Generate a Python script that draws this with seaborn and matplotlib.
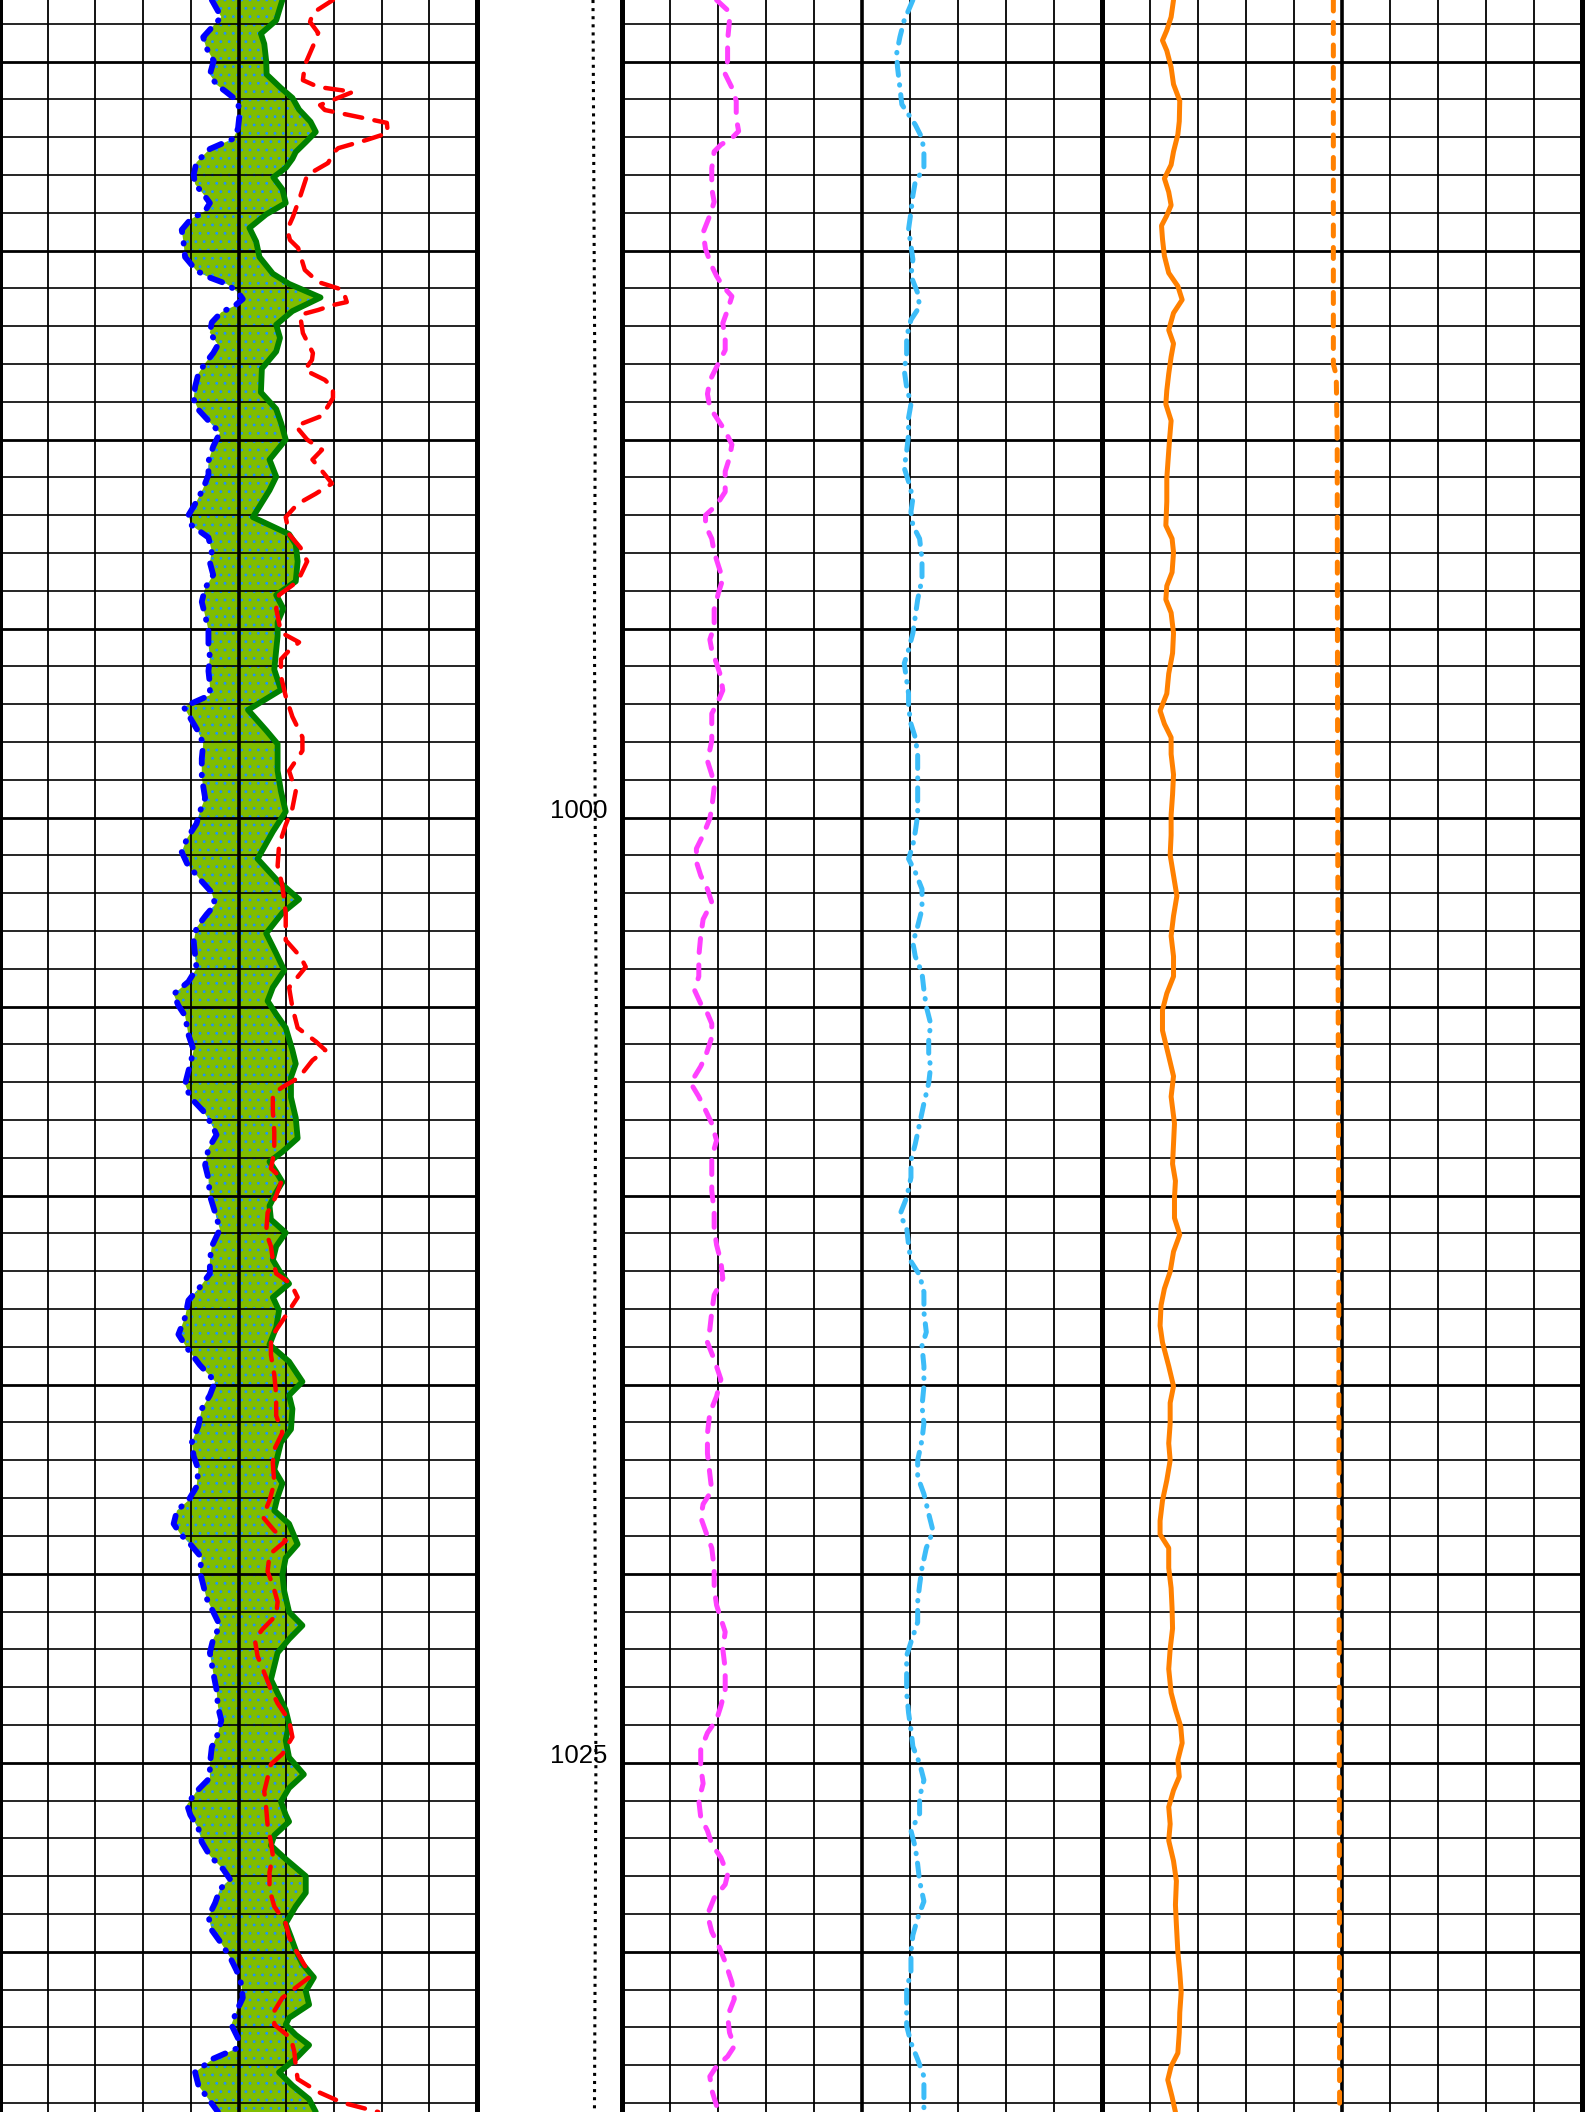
import matplotlib
matplotlib.use("Agg")
import matplotlib.pyplot as plt
import seaborn as sns

# ---- track 1 (grid divisions 0-10) ----
blue_depth = [978.37, 978.82, 979.35, 979.62, 979.98, 980.34, 980.61, 980.79, 981.05, 981.41,
              981.77, 982.04, 982.31, 982.66, 982.99, 983.24, 983.50, 983.74, 983.95, 984.18,
              984.45, 984.81, 985.17, 985.53, 985.70, 985.88, 986.10, 986.28, 986.46, 986.63,
              986.90, 987.17, 987.49, 987.71, 987.98, 988.25, 988.60, 988.93, 989.21, 989.50,
              989.82, 990.18, 990.57, 990.93, 991.29, 991.64, 992.00, 992.27, 992.59, 992.95,
              993.25, 993.58, 993.93, 994.29, 994.65, 995.04, 995.40, 995.76, 996.12, 996.47,
              996.76, 997.07, 997.37, 997.73, 998.05, 998.44, 998.94, 999.48, 999.84, 1000.16,
              1000.55, 1000.91, 1001.21, 1001.63, 1001.98, 1002.30, 1002.56, 1002.91, 1003.27, 1003.63,
              1003.99, 1004.34, 1004.67, 1004.97, 1005.24, 1005.74,
              1006.15, 1006.51, 1007.05, 1007.40, 1007.76, 1008.12, 1008.39, 1008.75, 1009.19, 1009.55,
              1010.00, 1010.45, 1010.89, 1011.34, 1011.70, 1012.06, 1012.42, 1012.77, 1013.22, 1013.67,
              1014.03, 1014.48, 1014.92, 1015.28, 1015.64, 1016.09, 1016.53, 1016.89, 1017.25, 1017.70,
              1018.06, 1018.33, 1018.68, 1018.95, 1019.22, 1019.58, 1019.94, 1020.30, 1020.65, 1021.01,
              1021.37, 1021.73, 1022.09, 1022.62, 1023.07, 1023.52, 1023.88, 1024.23, 1024.59, 1025.04,
              1025.40, 1025.76, 1026.11, 1026.38, 1026.74, 1027.10, 1027.46, 1027.82, 1028.08, 1028.35,
              1028.71, 1029.07, 1029.43, 1029.78, 1030.14, 1030.50, 1030.86, 1031.22, 1031.57, 1031.93,
              1032.29, 1032.56, 1032.83, 1033.19, 1033.54, 1033.90, 1034.24]
blue_val = [4.44, 4.64, 4.26, 4.32, 4.48, 4.40, 4.54, 4.73, 4.99, 5.02,
            4.99, 4.89, 4.40, 4.12, 4.06, 4.09, 4.26, 4.40, 4.30, 3.99,
            3.81, 3.85, 3.88, 4.12, 4.37, 4.75, 4.99, 5.09, 4.92, 4.64,
            4.44, 4.40, 4.57, 4.47, 4.30, 4.16, 4.09, 4.06, 4.16, 4.37,
            4.61, 4.47, 4.37, 4.37, 4.26, 4.12, 3.95, 4.02, 4.37, 4.44,
            4.40, 4.47, 4.30, 4.23, 4.30, 4.37, 4.37, 4.40, 4.37, 4.40,
            4.40, 3.85, 3.99, 4.16, 4.26, 4.23, 4.23, 4.30, 4.19, 4.12,
            3.92, 3.81, 3.92, 4.19, 4.44, 4.51, 4.33, 4.12, 4.06, 4.09,
            4.12, 3.95, 3.64, 3.74, 3.88, 3.95,
            4.06, 3.99, 3.88, 3.99, 4.26, 4.44, 4.54, 4.37, 4.30, 4.37,
            4.40, 4.51, 4.61, 4.44, 4.40, 4.40, 4.19, 3.95, 3.88, 3.74,
            3.92, 4.19, 4.51, 4.40, 4.23, 4.16, 4.02, 4.06, 4.16, 4.12,
            3.95, 3.71, 3.64, 3.78, 3.99, 4.23, 4.19, 4.26, 4.33, 4.47,
            4.61, 4.47, 4.40, 4.47, 4.54, 4.57, 4.64, 4.57, 4.44, 4.40,
            4.40, 4.12, 3.92, 3.99, 4.16, 4.23, 4.40, 4.68, 4.82, 4.61,
            4.51, 4.37, 4.44, 4.64, 4.82, 4.96, 5.06, 5.09, 4.96, 4.85,
            4.99, 4.96, 4.47, 4.09, 4.16, 4.37, 4.57]

green_depth = [978.37, 978.91, 979.26, 979.53, 979.98, 980.34, 980.70, 980.96, 981.27, 981.59,
               981.86, 982.13, 982.39, 982.57, 982.81, 983.06, 983.38, 983.74, 984.04, 984.40,
               984.76, 985.17, 985.61, 985.88, 986.24, 986.60, 986.96, 987.31, 987.67, 988.12,
               988.75, 989.19, 989.55, 990.00, 990.53, 990.98, 991.34, 992.05, 992.50, 992.77,
               993.22, 993.75, 994.11, 994.47, 994.83, 995.19, 995.58, 996.08, 996.62, 997.15,
               997.69, 998.05, 998.76, 999.30, 999.84, 1000.37, 1001.09, 1001.63, 1002.16, 1002.52,
               1003.06, 1003.59, 1004.04, 1004.49, 1004.85, 1005.20, 1005.56,
               1006.15, 1006.51, 1006.87, 1007.40, 1007.94, 1008.48, 1008.84, 1009.10, 1009.37, 1009.64,
               1009.91, 1010.27, 1010.63, 1010.98, 1011.34, 1011.70, 1012.06, 1012.33, 1012.69, 1013.04,
               1013.49, 1013.94, 1014.39, 1014.92, 1015.28, 1015.64, 1016.18, 1016.53, 1016.89, 1017.25,
               1017.61, 1017.97, 1018.33, 1018.68, 1019.22, 1019.58, 1020.03, 1020.47, 1021.01, 1021.37,
               1021.73, 1022.09, 1022.44, 1022.80, 1023.16, 1023.61, 1023.97, 1024.41, 1024.86, 1025.31,
               1025.67, 1026.03, 1026.38, 1026.56, 1026.92, 1027.19, 1027.55, 1028.00, 1028.44, 1028.80,
               1029.25, 1029.61, 1029.96, 1030.32, 1030.68, 1031.04, 1031.40, 1031.75, 1031.93, 1032.20,
               1032.47, 1032.83, 1033.19, 1033.54, 1033.90, 1034.24]
green_val = [5.92, 5.79, 5.47, 5.54, 5.58, 5.59, 5.89, 6.13, 6.27, 6.51,
             6.62, 6.41, 6.20, 6.13, 5.99, 5.73, 5.92, 5.99, 5.58, 5.23,
             5.37, 5.44, 5.72, 6.06, 6.72, 6.13, 5.79, 5.87, 5.79, 5.49,
             5.47, 5.79, 5.89, 5.99, 5.65, 5.79, 5.65, 5.30, 6.06, 6.20,
             6.24, 6.20, 5.79, 5.94, 5.82, 5.82, 5.79, 5.75, 5.89, 5.20,
             5.58, 5.82, 5.82, 5.89, 5.99, 5.72, 5.40, 5.79, 6.27, 5.92,
             5.58, 5.79, 5.96, 5.72, 5.61, 5.79, 5.99,
             6.13, 6.20, 6.10, 6.10, 6.20, 6.24, 5.92, 5.65, 5.79, 5.92,
             5.79, 5.65, 5.68, 5.99, 5.79, 5.72, 5.89, 6.06, 5.72, 5.85,
             5.79, 5.65, 6.06, 6.34, 6.06, 6.13, 6.10, 5.89, 5.82, 5.75,
             5.92, 5.82, 5.75, 6.06, 6.24, 5.99, 5.92, 5.96, 6.06, 6.34,
             6.06, 5.82, 5.75, 5.68, 5.82, 5.99, 6.06, 5.99, 6.06, 6.37,
             6.06, 5.89, 5.99, 6.06, 5.75, 5.68, 5.99, 6.41, 6.41, 6.20,
             5.99, 6.10, 6.20, 6.34, 6.58, 6.41, 6.48, 6.06, 5.99, 6.20,
             6.48, 6.20, 5.85, 6.13, 6.48, 6.62]

red_depth = [978.37, 978.71, 978.95, 979.24, 979.48, 980.09, 980.49, 980.67, 980.80, 981.15,
             981.28, 981.62, 981.89, 982.07, 982.29, 982.42, 982.68, 983.00, 983.58, 984.11,
             984.45, 984.72, 984.93, 985.51, 985.83, 986.04, 986.36, 986.44, 986.57, 986.70,
             987.18, 987.71, 987.89, 988.16, 988.42, 988.63, 988.90,
             989.37, 989.64, 990.00, 990.27, 990.53, 990.89, 991.16, 991.43, 991.70, 992.05,
             992.50, 992.86, 993.22, 993.75, 994.11, 994.47, 995.10, 995.36, 995.58, 995.81,
             996.26, 996.79, 997.33, 997.87, 998.23, 998.76, 999.30, 999.75, 1000.19, 1000.73,
             1001.27, 1001.80, 1002.52, 1003.24, 1003.68, 1003.95, 1004.49, 1005.02, 1005.56, 1005.92,
             1006.15, 1006.42, 1006.87, 1007.13, 1007.31, 1007.76, 1008.30, 1008.84, 1009.28, 1009.55,
             1010.00, 1010.45, 1010.98, 1011.34, 1011.70, 1012.06, 1012.33, 1012.69, 1013.04, 1013.31,
             1013.76, 1014.21, 1014.74, 1015.28, 1015.82, 1016.27, 1016.71, 1017.07, 1017.61, 1018.06,
             1018.50, 1018.86, 1019.13, 1019.49, 1019.94, 1020.30, 1020.74, 1021.10, 1021.46, 1021.73,
             1022.18, 1022.62, 1023.07, 1023.43, 1023.88, 1024.32, 1024.77, 1025.04, 1025.40, 1025.76,
             1026.20, 1026.65, 1027.10, 1027.46, 1027.90, 1028.35, 1028.80, 1029.25, 1029.61, 1029.96,
             1030.41, 1030.68, 1030.95, 1031.22, 1031.57, 1031.93, 1032.29, 1032.65, 1033.01, 1033.37,
             1033.72, 1033.99, 1034.24]
red_val = [6.98, 6.56, 6.50, 6.67, 6.60, 6.39, 6.35, 6.67, 7.40, 6.71,
           6.81, 8.11, 8.13, 7.69, 7.09, 6.98, 6.88, 6.44, 6.29, 6.14,
           6.02, 6.08, 6.25, 6.39, 6.67, 7.19, 7.27, 6.98, 6.67, 6.29,
           6.35, 6.56, 6.54, 6.39, 6.81, 6.98, 6.98,
           6.75, 6.20, 6.44, 6.75, 6.55, 6.79, 6.96, 6.62, 6.24, 5.99,
           6.06, 6.30, 6.44, 6.24, 5.85, 5.79, 5.89, 6.27, 6.06, 5.89,
           5.89, 5.99, 6.13, 6.34, 6.34, 6.06, 6.20, 6.13, 5.99, 5.85,
           5.82, 5.92, 5.99, 5.99, 6.30, 6.41, 6.06, 6.13, 6.24, 6.62,
           6.82, 6.55, 6.27, 5.92, 5.72, 5.72, 5.75, 5.75, 5.68, 5.92,
           5.79, 5.61, 5.58, 5.68, 5.72, 5.79, 6.10, 6.24, 6.06, 5.92,
           5.68, 5.68, 5.75, 5.79, 5.79, 5.92, 5.75, 5.72, 5.75, 5.65,
           5.51, 5.75, 5.99, 5.65, 5.61, 5.72, 5.82, 5.79, 5.51, 5.34,
           5.40, 5.54, 5.68, 5.82, 6.06, 6.13, 5.92, 5.68, 5.61, 5.54,
           5.58, 5.61, 5.68, 5.72, 5.65, 5.65, 5.75, 5.99, 6.06, 6.20,
           6.41, 6.48, 6.20, 5.92, 5.75, 5.75, 6.10, 6.17, 6.20, 6.24,
           6.69, 7.17, 7.93]

# ---- depth track (fraction of track width) ----
dot_depth = [978.37, 985.0, 990.0, 995.0, 1000.0, 1005.0, 1010.0, 1015.0, 1020.0, 1025.0, 1030.0, 1034.24]
dot_val = [0.800, 0.808, 0.815, 0.810, 0.815, 0.822, 0.815, 0.810, 0.815, 0.820, 0.815, 0.810]
depth_labels = [1000, 1025]

# ---- track 2 (grid divisions 0-10) ----
magenta_depth = [978.37, 978.64, 978.90, 979.44, 979.97, 980.33, 980.69, 981.04, 981.49, 981.84,
                 982.02, 982.20, 982.38, 982.82, 983.36, 983.71, 984.07, 984.52, 984.96, 985.41,
                 985.67, 985.94, 986.21, 986.57, 986.92, 987.37, 987.63, 988.08, 988.44, 988.79,
                 989.15, 989.42, 989.77, 990.13, 990.48, 990.84, 991.38, 991.73, 992.00, 992.27,
                 992.62, 992.98, 993.34, 993.69, 994.05, 994.49, 994.94, 995.29, 995.56, 995.92,
                 996.27, 996.63, 996.90, 997.25, 997.61, 997.97, 998.50, 998.86, 999.21, 999.75,
                 1000.02, 1000.46, 1000.82, 1001.17, 1001.53, 1001.89, 1002.24, 1002.69, 1003.13, 1003.67,
                 1004.20, 1004.56, 1004.92, 1005.18, 1005.45, 1005.81,
                 1006.31, 1006.58, 1007.02, 1007.38, 1007.74, 1008.09, 1008.54, 1008.98, 1009.43, 1009.87,
                 1010.41, 1010.85, 1011.30, 1011.74, 1012.19, 1012.63, 1013.08, 1013.53, 1013.88, 1014.33,
                 1014.86, 1015.31, 1015.75, 1016.29, 1016.82, 1017.36, 1017.80, 1018.16, 1018.51, 1018.87,
                 1019.32, 1019.85, 1020.38, 1020.83, 1021.19, 1021.54, 1021.99, 1022.52, 1023.06, 1023.50,
                 1023.86, 1024.21, 1024.66, 1025.11, 1025.55, 1026.00, 1026.44, 1026.80, 1027.15, 1027.51,
                 1027.96, 1028.22, 1028.58, 1029.02, 1029.47, 1029.83, 1030.27, 1030.81, 1031.25, 1031.70,
                 1032.14, 1032.50, 1032.77, 1033.03, 1033.30, 1033.66, 1034.24]
magenta_val = [1.97, 2.20, 2.24, 2.20, 2.20, 2.15, 2.29, 2.38, 2.38, 2.43,
               2.29, 2.06, 1.92, 1.87, 1.87, 1.92, 1.83, 1.69, 1.74, 1.87,
               1.97, 2.10, 2.29, 2.20, 2.10, 2.15, 2.15, 1.97, 1.83, 1.78,
               1.83, 1.97, 2.15, 2.29, 2.24, 2.15, 2.15, 1.97, 1.74, 1.74,
               1.87, 1.92, 2.01, 2.10, 2.01, 1.92, 1.92, 1.83, 1.87, 1.97,
               2.06, 2.10, 2.01, 1.87, 1.87, 1.87, 1.78, 1.87, 1.92, 1.87,
               1.83, 1.69, 1.55, 1.55, 1.64, 1.78, 1.87, 1.69, 1.64, 1.60,
               1.60, 1.51, 1.64, 1.78, 1.87, 1.87,
               1.74, 1.64, 1.43, 1.60, 1.74, 1.87, 1.97, 1.87, 1.87, 1.87,
               1.92, 1.92, 1.97, 2.06, 2.10, 1.92, 1.87, 1.83, 1.78, 1.92,
               2.06, 1.97, 1.83, 1.78, 1.78, 1.83, 1.87, 1.69, 1.64, 1.74,
               1.87, 1.92, 1.92, 1.97, 2.06, 2.15, 2.10, 2.15, 2.15, 2.06,
               1.97, 1.78, 1.64, 1.64, 1.69, 1.60, 1.64, 1.78, 1.87, 2.06,
               2.20, 2.15, 1.92, 1.78, 1.87, 2.01, 2.15, 2.29, 2.34, 2.20,
               2.24, 2.34, 2.20, 1.97, 1.83, 1.87, 2.01]

cyan_depth = [978.37, 978.64, 978.90, 979.35, 979.80, 980.15, 980.69, 981.13, 981.40, 981.67,
              982.02, 982.38, 982.82, 983.18, 983.54, 983.98, 984.43, 984.87, 985.23, 985.67,
              986.12, 986.48, 986.83, 987.28, 987.72, 988.17, 988.61, 989.06, 989.42, 989.86,
              990.31, 990.75, 991.11, 991.55, 991.91, 992.27, 992.62, 993.16, 993.69, 994.23,
              994.67, 995.12, 995.56, 995.92, 996.36, 996.72, 997.08, 997.52, 997.88, 998.32,
              998.86, 999.39, 999.93, 1000.37, 1000.73, 1001.09, 1001.44, 1001.89, 1002.42, 1002.87,
              1003.31, 1003.67, 1004.11, 1004.56, 1005.00, 1005.45, 1005.90,
              1006.31, 1006.58, 1007.02, 1007.56, 1008.09, 1008.63, 1009.07, 1009.52, 1010.05, 1010.50,
              1010.85, 1011.30, 1011.74, 1012.10, 1012.55, 1013.08, 1013.61, 1013.97, 1014.51, 1015.04,
              1015.57, 1016.02, 1016.46, 1017.00, 1017.44, 1017.89, 1018.42, 1018.87, 1019.32, 1019.85,
              1020.30, 1020.74, 1021.28, 1021.81, 1022.17, 1022.61, 1023.15, 1023.68, 1024.13, 1024.57,
              1025.02, 1025.46, 1025.91, 1026.35, 1026.80, 1027.24, 1027.69, 1028.13, 1028.67, 1029.11,
              1029.56, 1030.00, 1030.54, 1030.98, 1031.43, 1031.96, 1032.41, 1032.85, 1033.30, 1033.75,
              1034.24]
cyan_val = [6.06, 5.97, 5.88, 5.79, 5.72, 5.74, 5.79, 5.83, 5.97, 6.11,
            6.25, 6.29, 6.29, 6.11, 6.06, 6.02, 5.97, 6.02, 6.06, 6.02,
            6.16, 6.20, 6.02, 5.93, 5.93, 5.88, 5.93, 6.02, 5.97, 5.97,
            5.93, 5.88, 5.97, 6.06, 6.02, 6.06, 6.20, 6.25, 6.25, 6.16,
            6.11, 6.06, 5.97, 5.88, 5.93, 5.97, 5.97, 6.02, 6.11, 6.16,
            6.16, 6.16, 6.16, 6.11, 6.06, 5.97, 6.11, 6.25, 6.25, 6.16,
            6.06, 6.11, 6.25, 6.29, 6.34, 6.43, 6.39,
            6.39, 6.43, 6.39, 6.29, 6.20, 6.11, 6.02, 6.02, 5.93, 5.79,
            5.93, 5.97, 6.02, 6.20, 6.29, 6.29, 6.34, 6.25, 6.29, 6.29,
            6.25, 6.29, 6.25, 6.16, 6.16, 6.29, 6.39, 6.48, 6.34, 6.25,
            6.20, 6.16, 6.16, 6.02, 5.93, 5.93, 5.93, 5.97, 6.02, 6.06,
            6.20, 6.29, 6.20, 6.20, 6.02, 6.11, 6.16, 6.20, 6.29, 6.16,
            6.06, 6.02, 6.02, 5.93, 5.93, 5.93, 6.02, 6.16, 6.29, 6.29,
            6.29]

# ---- track 3 (grid divisions 0-10) ----
orange_depth = [978.37, 978.82, 979.17, 979.44, 979.71, 980.15, 980.60, 981.04, 981.58, 981.93,
                982.38, 982.73, 983.09, 983.45, 983.80, 984.07, 984.34, 984.69, 985.14, 985.59,
                985.94, 986.30, 986.65, 987.10, 987.46, 987.81, 988.26, 988.70, 989.06, 989.50,
                989.95, 990.48, 991.02, 991.64, 992.27, 992.62, 992.98, 993.51, 993.87, 994.23,
                994.58, 995.12, 995.65, 996.19, 996.72, 997.17, 997.52, 997.88, 998.32, 998.86,
                999.39, 999.93, 1000.46, 1000.99, 1001.53, 1002.07, 1002.60, 1003.13, 1003.67, 1004.20,
                1004.65, 1005.09, 1005.63,
                1006.31, 1006.84, 1007.38, 1008.09, 1008.63, 1009.16, 1009.61, 1010.05, 1010.59, 1011.03,
                1011.48, 1012.01, 1012.46, 1012.90, 1013.44, 1013.88, 1014.51, 1015.04, 1015.48, 1016.02,
                1016.55, 1017.00, 1017.53, 1018.07, 1018.60, 1018.96, 1019.32, 1019.85, 1020.38, 1020.92,
                1021.45, 1021.99, 1022.52, 1023.15, 1023.59, 1024.04, 1024.48, 1024.93, 1025.37, 1025.73,
                1026.17, 1026.62, 1027.06, 1027.60, 1028.13, 1028.76, 1029.29, 1030.00, 1030.54, 1031.07,
                1031.61, 1032.14, 1032.68, 1033.03, 1033.39, 1033.84, 1034.24]
orange_val = [1.49, 1.44, 1.35, 1.26, 1.35, 1.44, 1.49, 1.62, 1.61, 1.58,
              1.49, 1.44, 1.30, 1.39, 1.44, 1.35, 1.24, 1.26, 1.30, 1.39,
              1.58, 1.67, 1.49, 1.39, 1.49, 1.44, 1.39, 1.35, 1.33, 1.44,
              1.41, 1.38, 1.35, 1.35, 1.33, 1.46, 1.49, 1.46, 1.35, 1.33,
              1.44, 1.49, 1.47, 1.39, 1.35, 1.21, 1.30, 1.44, 1.44, 1.49,
              1.47, 1.44, 1.44, 1.42, 1.49, 1.56, 1.49, 1.44, 1.49, 1.49,
              1.35, 1.26, 1.26,
              1.39, 1.49, 1.44, 1.51, 1.49, 1.47, 1.53, 1.51, 1.51, 1.62,
              1.49, 1.42, 1.30, 1.23, 1.21, 1.26, 1.39, 1.49, 1.42, 1.42,
              1.39, 1.42, 1.35, 1.26, 1.21, 1.21, 1.39, 1.39, 1.44, 1.46,
              1.47, 1.42, 1.39, 1.44, 1.53, 1.64, 1.67, 1.58, 1.61, 1.49,
              1.39, 1.42, 1.39, 1.49, 1.55, 1.53, 1.55, 1.58, 1.62, 1.65,
              1.62, 1.61, 1.58, 1.44, 1.37, 1.46, 1.53]

orange_dash_depth = [978.37, 988.00, 988.30, 990.0, 1000.0, 1010.0, 1020.0, 1034.24]
orange_dash_val = [4.82, 4.82, 4.88, 4.90, 4.91, 4.93, 4.94, 4.95]

sns.set_style("white")
plt.rcParams["font.family"] = ["Liberation Sans", "DejaVu Sans"]
plt.rcParams["hatch.linewidth"] = 0.8

W, H = 1592, 2112
TOP, BASE = 978.37, 1034.24
fig = plt.figure(figsize=(W / 100, H / 100), dpi=100)


def make_track(x0, width, gridded=True):
    ax = fig.add_axes([x0 / W, 0, width / W, 1])
    ax.set_ylim(BASE, TOP)
    for side in ["top", "bottom"]:
        ax.spines[side].set_visible(False)
    for side in ["left", "right"]:
        ax.spines[side].set_linewidth(3.6)
        ax.spines[side].set_color("black")
    ax.tick_params(which="both", length=0, labelleft=False, labelbottom=False)
    if gridded:
        ax.set_xlim(0, 10)
        ax.set_xticks([5])
        ax.set_xticks(range(11), minor=True)
        ax.set_yticks(range(980, 1035, 5))
        ax.set_yticks(range(979, 1035), minor=True)
        ax.grid(which="major", axis="x", color="black", lw=2.6)
        ax.grid(which="minor", axis="x", color="black", lw=1.3)
        ax.grid(which="major", axis="y", color="black", lw=2.0)
        ax.grid(which="minor", axis="y", color="black", lw=1.2)
        ax.set_axisbelow("line")
    else:
        ax.set_xlim(0, 1)
        ax.set_xticks([])
        ax.set_yticks([])
    return ax


def curve(ax, vals, depths, **kw):
    sns.lineplot(x=vals, y=depths, orient="y", sort=False, estimator=None, ax=ax,
                 solid_joinstyle="round", dash_joinstyle="round", zorder=3, **kw)


ax1 = make_track(0, 477)
axd = make_track(477, 145, gridded=False)
ax2 = make_track(622, 480)
ax3 = make_track(1102, 480)

# track 1: shaded area between the two curves
ax1.fill(blue_val + green_val[::-1], blue_depth + green_depth[::-1],
         facecolor="#80bd00", edgecolor="#1e90ff", hatch="..", lw=0, zorder=1)
curve(ax1, blue_val, blue_depth, color="#0000ff", lw=4.2,
      linestyle=(0, (2.2, 1.9, 0.1, 1.9)), dash_capstyle="round")
curve(ax1, green_val, green_depth, color="#008000", lw=4.2)
curve(ax1, red_val, red_depth, color="#ff0000", lw=3.2,
      linestyle=(0, (4, 2.8)), dash_capstyle="round")

# depth track
curve(axd, dot_val, dot_depth, color="black", lw=2.2, linestyle=":")
for d in depth_labels:
    axd.text(0.70, d, str(d), ha="center", va="baseline", fontsize=18.5, color="black")

# track 2
curve(ax2, magenta_val, magenta_depth, color="#ff40ff", lw=3.6,
      linestyle=(0, (2.8, 2.5)), dash_capstyle="round")
curve(ax2, cyan_val, cyan_depth, color="#3cbcf8", lw=3.6,
      linestyle=(0, (2.6, 1.9, 0.1, 1.9)), dash_capstyle="round")

# track 3
curve(ax3, orange_val, orange_depth, color="#ff8000", lw=3.6)
curve(ax3, orange_dash_val, orange_dash_depth, color="#ff8000", lw=3.6,
      linestyle=(0, (2.2, 2.3)), dash_capstyle="round")

for ax in [ax1, axd, ax2, ax3]:
    ax.set_xlabel("")
    ax.set_ylabel("")

fig.savefig("out.png", dpi=100)
